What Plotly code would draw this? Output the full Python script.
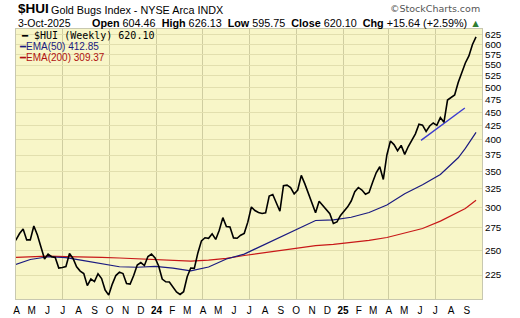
import plotly.graph_objects as go
import pandas as pd

# ---------------- data ----------------
week_start = "2023-04-07"
week_end = "2025-10-03"
dates = pd.date_range(week_start, week_end, freq="W-FRI")

close = [
    260.2, 261.3, 268.5, 273.7, 261.3, 261.3, 277.3, 266.8, 253.6, 240.9,
    246.0, 243.2, 242.4, 231.8, 232.3, 233.3, 246.6, 241.4, 233.1, 228.8,
    226.4, 215.1, 221.2, 218.8, 226.2, 221.7, 211.1, 206.6, 216.5, 224.5,
    227.8, 226.4, 217.0, 216.5, 224.5, 234.8, 237.3, 234.3, 243.4, 246.0,
    241.9, 233.8, 221.2, 218.6, 218.4, 214.2, 209.3, 207.2, 209.6, 223.4,
    231.8, 231.5, 247.2, 260.2, 263.7, 263.1, 268.2, 261.8, 272.2, 287.3,
    276.7, 276.1, 263.5, 263.1, 266.5, 268.7, 281.8, 300.6, 296.1, 293.6,
    292.4, 293.2, 315.0, 316.9, 306.3, 295.2, 329.0, 329.8, 326.5, 317.7,
    323.1, 343.9, 331.6, 318.1, 303.1, 293.2, 307.9, 302.7, 298.0, 292.2,
    280.2, 282.0, 289.9, 294.8, 300.8, 308.3, 320.8, 326.6, 323.1, 317.3,
    319.8, 334.0, 347.7, 356.7, 337.9, 375.0, 398.0, 392.0, 382.0, 390.7,
    376.0, 388.8, 399.2, 410.3, 427.3, 425.7, 414.6, 424.3, 429.7, 425.5,
    439.8, 431.0, 473.9, 479.0, 484.1, 510.6, 531.0, 554.8, 571.6, 600.3,
    620.1,
]

ema_dates = [
    "2023-04-07", "2023-05-12", "2023-06-16", "2023-07-21", "2023-08-25",
    "2023-09-29", "2023-11-03", "2023-12-08", "2024-01-12", "2024-02-16",
    "2024-03-22", "2024-04-26", "2024-05-31", "2024-07-05", "2024-08-09",
    "2024-09-13", "2024-10-18", "2024-11-22", "2024-12-27", "2025-01-31",
    "2025-03-07", "2025-04-11", "2025-05-16", "2025-06-20", "2025-07-25",
    "2025-08-29", "2025-09-12", "2025-10-03",
]
ema50 = [
    234.3, 240.4, 243.2, 242.4, 239.3, 235.8, 233.1, 232.6, 233.5, 231.8,
    229.1, 232.8, 240.9, 246.0, 254.9, 264.5, 274.6, 283.8, 284.6, 287.7,
    293.6, 303.1, 318.1, 330.3, 345.2, 370.6, 385.6, 412.85,
]
ema200 = [
    242.4, 243.0, 243.8, 243.4, 243.2, 242.6, 241.9, 241.1, 240.4, 239.5,
    238.8, 239.7, 241.5, 244.5, 247.2, 249.8, 252.4, 255.1, 256.4, 258.4,
    260.8, 264.0, 269.0, 274.3, 283.0, 294.2, 298.6, 309.37,
]

trend_dates = ["2025-06-17", "2025-09-11"]
trend_vals = [399.0, 458.0]

month_labels = ["A", "M", "J", "J", "A", "S", "O", "N", "D", "<b>24</b>",
                "F", "M", "A", "M", "J", "J", "A", "S", "O", "N", "D", "<b>25</b>",
                "F", "M", "A", "M", "J", "J", "A", "S"]
y_ticks = list(range(225, 626, 25))

title_sym = "$HUI"
title_name = "Gold Bugs Index - NYSE Arca INDX"
date_text = "3-Oct-2025"
ohlc = {"Open": "604.46", "High": "626.13", "Low": "595.75", "Close": "620.10"}
chg_text = "+15.64 (+2.59%)"
legend_price = "$HUI (Weekly) 620.10"
legend_ema50 = "EMA(50) 412.85"
legend_ema200 = "EMA(200) 309.37"

# ---------------- layout helpers ----------------
W, H = 520, 318
L, R, T, B = 16, 482, 29, 299


def px(x):
    return (x - L) / (R - L)


def py(y):
    return (B - y) / (B - T)


FONT = "Arial, Liberation Sans, sans-serif"
month_pos = pd.date_range("2023-04-01", periods=len(month_labels), freq="MS") + pd.Timedelta(days=14)
quarter_pos = [d for d in month_pos if d.month in (1, 4, 7, 10)]

fig = go.Figure()
fig.add_trace(go.Scatter(x=ema_dates, y=ema200, mode="lines",
                         line=dict(color="#C81818", width=1.2), hoverinfo="skip"))
fig.add_trace(go.Scatter(x=ema_dates, y=ema50, mode="lines",
                         line=dict(color="#1A1A80", width=1.2), hoverinfo="skip"))
fig.add_trace(go.Scatter(x=trend_dates, y=trend_vals, mode="lines",
                         line=dict(color="#3C3CD0", width=1.4), hoverinfo="skip"))
fig.add_trace(go.Scatter(x=dates, y=close, mode="lines",
                         line=dict(color="#000000", width=1.6), hoverinfo="skip"))
# carrier for the month-label axis
fig.add_trace(go.Scatter(x=[dates[0]], y=[close[0]], xaxis="x2", mode="markers",
                         marker=dict(opacity=0), hoverinfo="skip"))

x_range = ["2023-04-14", "2025-10-14 17:00"]
fig.update_layout(
    width=W, height=H,
    margin=dict(l=L, r=W - R, t=T, b=H - B, autoexpand=False),
    paper_bgcolor="white",
    plot_bgcolor="#F8F6C8",
    showlegend=False,
    xaxis=dict(type="date", range=x_range, tickmode="array", tickvals=quarter_pos,
               showticklabels=False, ticks="", showgrid=True, gridcolor="#CFCDA0",
               gridwidth=1, showline=True, mirror=True, linecolor="#C8C8B0",
               zeroline=False, automargin=False),
    xaxis2=dict(type="date", overlaying="x", matches="x", anchor="y", side="bottom",
                tickmode="array", tickvals=month_pos, ticktext=month_labels,
                showgrid=False, ticks="outside", ticklen=2, tickcolor="rgba(0,0,0,0)",
                showline=False, zeroline=False, automargin=False,
                tickfont=dict(family=FONT, size=10, color="#000000")),
    yaxis=dict(type="log", side="right", range=[2.3079, 2.8069], tickmode="array",
               tickvals=y_ticks, ticktext=[str(v) for v in y_ticks], ticks="",
               showgrid=True, gridcolor="#E2DFAE", gridwidth=1, showline=True,
               mirror=True, linecolor="#C8C8B0", zeroline=False, automargin=False,
               tickfont=dict(family=FONT, size=9.8, color="#000000")),
)

ann = []
ann.append(dict(x=px(16), y=py(9), text="<b>" + title_sym + "</b>", xanchor="left",
                yanchor="middle", font=dict(family=FONT, size=13.5, color="#000")))
ann.append(dict(x=px(49), y=py(9.5), text=title_name, xanchor="left", yanchor="middle",
                font=dict(family=FONT, size=10.8, color="#000")))
ann.append(dict(x=px(16), y=py(23), text=date_text, xanchor="left", yanchor="middle",
                font=dict(family=FONT, size=10.5, color="#000")))
parts = [f"<b>{k}</b> {v}" for k, v in ohlc.items()]
line2 = "  ".join(parts) + "  <b>Chg</b> " + chg_text + " <span style='color:#2E7D32'>▲</span>"
ann.append(dict(x=px(483), y=py(23), text=line2, xanchor="right", yanchor="middle",
                font=dict(family=FONT, size=10.8, color="#000")))
ann.append(dict(x=px(482), y=py(8), text="©StockCharts.com", xanchor="right", yanchor="middle",
                font=dict(family="DejaVu Sans", size=9.5, color="#555555")))
ann.append(dict(x=px(19), y=py(35), text="━ " + legend_price, xanchor="left", yanchor="middle",
                font=dict(family="DejaVu Sans Mono", size=10, color="#000")))
ann.append(dict(x=px(17), y=py(46), text="━" + legend_ema50, xanchor="left", yanchor="middle",
                font=dict(family=FONT, size=10, color="#1A1A80")))
ann.append(dict(x=px(17), y=py(57), text="━" + legend_ema200, xanchor="left", yanchor="middle",
                font=dict(family=FONT, size=10, color="#B01010")))
for a in ann:
    a.update(xref="paper", yref="paper", showarrow=False)
fig.update_layout(annotations=ann)

fig.write_html("out.html")
